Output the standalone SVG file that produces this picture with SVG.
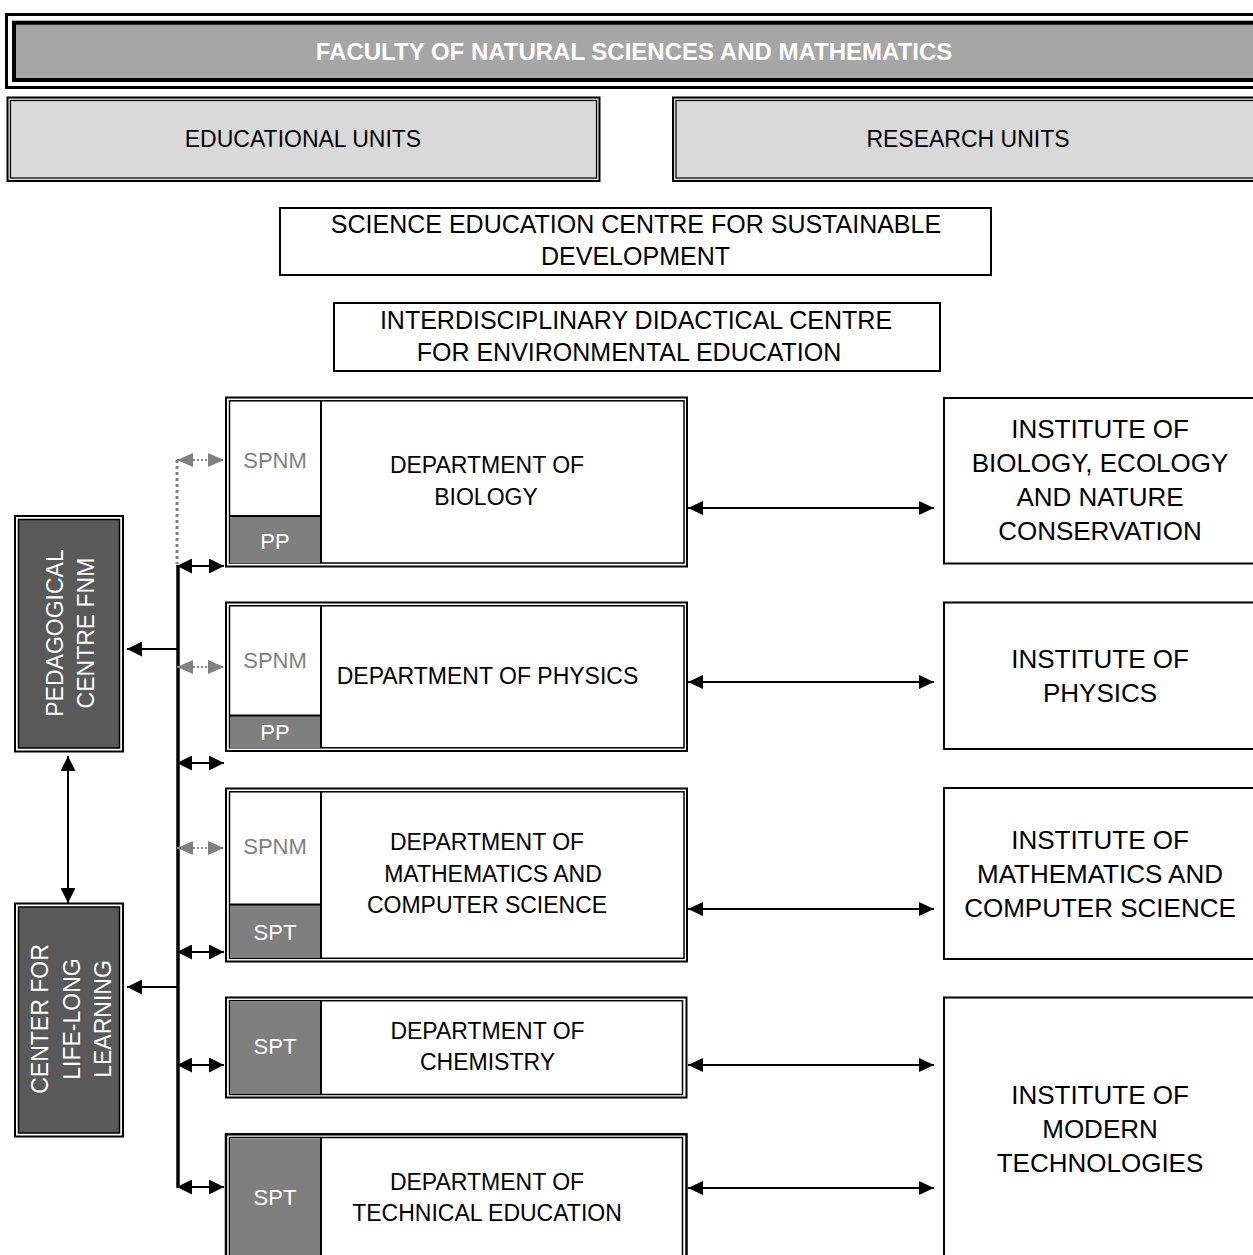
<svg xmlns="http://www.w3.org/2000/svg" width="1253" height="1255" viewBox="0 0 1253 1255">
<style>
text{font-family:"Liberation Sans",Arial,sans-serif;text-anchor:middle;fill:#000}
.t23{font-size:23px}
.t25{font-size:25px}
.t26{font-size:26px}
.sm{font-size:22px}
.gr{fill:#808080}
.wh{fill:#fff}
.o{fill:none;stroke:#000;stroke-width:2}
.i{fill:none;stroke:#000;stroke-width:1.5}
.band{fill:#7f7f7f}
.ln{stroke:#000;stroke-width:2;fill:none}
.conn{stroke:#000;stroke-width:2;fill:none;marker-start:url(#ah);marker-end:url(#ah)}
.bus{stroke:#000;stroke-width:2;fill:none;marker-start:url(#sh);marker-end:url(#sh)}
.gconn{stroke:#808080;stroke-width:2;stroke-dasharray:2 2;fill:none;marker-start:url(#gh);marker-end:url(#gh)}
</style>
<defs>
<marker id="ah" markerUnits="userSpaceOnUse" markerWidth="15" markerHeight="14" refX="15" refY="7" orient="auto-start-reverse"><path d="M0,0 L15,7 L0,14 z" fill="#000"/></marker>
<marker id="sh" markerUnits="userSpaceOnUse" markerWidth="15" markerHeight="15" refX="15" refY="7.5" orient="auto-start-reverse"><path d="M0,0 L15,7.5 L0,15 z" fill="#000"/></marker>
<marker id="gh" markerUnits="userSpaceOnUse" markerWidth="16" markerHeight="14" refX="16" refY="7" orient="auto-start-reverse"><path d="M0,0 L16,7 L0,14 z" fill="#808080"/></marker>
<marker id="eh" markerUnits="userSpaceOnUse" markerWidth="15" markerHeight="15" refX="15" refY="7.5" orient="auto"><path d="M0,0 L15,7.5 L0,15 z" fill="#000"/></marker>
</defs>
<rect width="1253" height="1255" fill="#fff"/>

<g id="faculty">
<rect x="6.5" y="14.5" width="1260" height="73" fill="#fff" stroke="#000" stroke-width="3"/>
<rect x="14" y="22.7" width="1260" height="57.3" fill="#a6a6a6" stroke="#000" stroke-width="4"/>
<text x="634" y="59.5" class="wh" style="font-size:24px;font-weight:bold">FACULTY OF NATURAL SCIENCES AND MATHEMATICS</text>
</g>

<g id="educational-units">
<rect x="7.5" y="97.5" width="592" height="83.5" fill="#d9d9d9" stroke="#000" stroke-width="2"/>
<rect x="10.5" y="100.5" width="586" height="77.5" fill="none" stroke="#000" stroke-width="1.2"/>
<text x="303" y="146.5" class="t23">EDUCATIONAL UNITS</text>
</g>

<g id="research-units">
<rect x="673" y="97.5" width="600" height="83.5" fill="#d9d9d9" stroke="#000" stroke-width="2"/>
<rect x="676" y="100.5" width="600" height="77.5" fill="none" stroke="#000" stroke-width="1.2"/>
<text x="968" y="146.5" class="t23">RESEARCH UNITS</text>
</g>

<g id="science-education-centre">
<rect x="280" y="208" width="711" height="67" fill="#fff" stroke="#000" stroke-width="2"/>
<text x="636" y="233" class="t25">SCIENCE EDUCATION CENTRE FOR SUSTAINABLE</text>
<text x="635.5" y="265" class="t25">DEVELOPMENT</text>
</g>

<g id="interdisciplinary-centre">
<rect x="334" y="303" width="606" height="68" fill="#fff" stroke="#000" stroke-width="2"/>
<text x="636" y="329" class="t25">INTERDISCIPLINARY DIDACTICAL CENTRE</text>
<text x="629" y="361" class="t25">FOR ENVIRONMENTAL EDUCATION</text>
</g>

<g id="pedagogical-centre">
<rect x="15" y="516" width="108" height="235.5" fill="#fff" stroke="#000" stroke-width="2"/>
<rect x="18.5" y="519.5" width="101" height="228.5" fill="#595959" stroke="#000" stroke-width="1.5"/>
<g transform="translate(69,633) rotate(-90)">
<text x="0" y="-6" class="t23 wh">PEDAGOGICAL</text>
<text x="0" y="25" class="t23 wh">CENTRE FNM</text>
</g>
</g>

<g id="life-long-learning">
<rect x="15" y="903.5" width="108" height="233" fill="#fff" stroke="#000" stroke-width="2"/>
<rect x="18.5" y="907" width="101" height="226" fill="#595959" stroke="#000" stroke-width="1.5"/>
<g transform="translate(69,1019) rotate(-90)">
<text x="0" y="-21" class="t23 wh">CENTER FOR</text>
<text x="0" y="11" class="t23 wh">LIFE-LONG</text>
<text x="0" y="42" class="t23 wh">LEARNING</text>
</g>
</g>

<g id="dept-biology">
<rect x="226" y="397.5" width="461" height="169" fill="#fff" class="o"/>
<rect x="229.5" y="400.8" width="454.5" height="162.2" class="i"/>
<rect x="230" y="516" width="91" height="47" class="band"/>
<line x1="230" y1="516" x2="321" y2="516" class="ln"/>
<line x1="321" y1="401" x2="321" y2="563" class="ln"/>
<text x="275" y="468" class="sm gr">SPNM</text>
<text x="275" y="548.5" class="sm wh">PP</text>
<text x="487" y="473" class="t23">DEPARTMENT OF</text>
<text x="486" y="505" class="t23">BIOLOGY</text>
</g>

<g id="dept-physics">
<rect x="226" y="602.5" width="461" height="148.5" fill="#fff" class="o"/>
<rect x="229.5" y="605.8" width="454.5" height="142" class="i"/>
<rect x="230" y="715.5" width="91" height="32.5" class="band"/>
<line x1="230" y1="715.5" x2="321" y2="715.5" class="ln"/>
<line x1="321" y1="606" x2="321" y2="748" class="ln"/>
<text x="275" y="668" class="sm gr">SPNM</text>
<text x="275" y="740" class="sm wh">PP</text>
<text x="487.5" y="684" class="t23">DEPARTMENT OF PHYSICS</text>
</g>

<g id="dept-mathematics">
<rect x="226" y="788.5" width="461" height="173" fill="#fff" class="o"/>
<rect x="229.5" y="791.8" width="454.5" height="166.5" class="i"/>
<rect x="230" y="904.5" width="91" height="53.5" class="band"/>
<line x1="230" y1="904.5" x2="321" y2="904.5" class="ln"/>
<line x1="321" y1="792" x2="321" y2="958" class="ln"/>
<text x="275" y="854" class="sm gr">SPNM</text>
<text x="275" y="940" class="sm wh">SPT</text>
<text x="487" y="850" class="t23">DEPARTMENT OF</text>
<text x="493" y="882" class="t23">MATHEMATICS AND</text>
<text x="487" y="913" class="t23">COMPUTER SCIENCE</text>
</g>

<g id="dept-chemistry">
<rect x="226" y="997.5" width="460.5" height="100" fill="#fff" class="o"/>
<rect x="229.5" y="1000.7" width="453" height="93.8" class="i"/>
<rect x="230" y="1001.5" width="91" height="92.5" class="band"/>
<line x1="321" y1="1001" x2="321" y2="1094" class="ln"/>
<text x="275" y="1054" class="sm wh">SPT</text>
<text x="487.5" y="1039" class="t23">DEPARTMENT OF</text>
<text x="487.5" y="1070" class="t23">CHEMISTRY</text>
</g>

<g id="dept-technical-education">
<rect x="226" y="1134.3" width="460.5" height="140" fill="#fff" stroke="#000" stroke-width="2.5"/>
<rect x="229.5" y="1137.5" width="453" height="140" class="i"/>
<rect x="230" y="1138.5" width="91" height="130" class="band"/>
<line x1="321" y1="1138" x2="321" y2="1260" class="ln"/>
<text x="275" y="1205" class="sm wh">SPT</text>
<text x="487" y="1190" class="t23">DEPARTMENT OF</text>
<text x="487" y="1221" class="t23">TECHNICAL EDUCATION</text>
</g>

<g id="inst-biology">
<rect x="944" y="398" width="320" height="165.5" fill="#fff" class="o"/>
<text x="1100" y="438" class="t26">INSTITUTE OF</text>
<text x="1100" y="472" class="t26">BIOLOGY, ECOLOGY</text>
<text x="1100" y="506" class="t26">AND NATURE</text>
<text x="1100" y="540" class="t26">CONSERVATION</text>
</g>

<g id="inst-physics">
<rect x="944" y="602.5" width="320" height="146.5" fill="#fff" class="o"/>
<text x="1100" y="668" class="t26">INSTITUTE OF</text>
<text x="1100" y="702" class="t26">PHYSICS</text>
</g>

<g id="inst-mathematics">
<rect x="944" y="788" width="320" height="171" fill="#fff" class="o"/>
<text x="1100" y="849" class="t26">INSTITUTE OF</text>
<text x="1100" y="883" class="t26">MATHEMATICS AND</text>
<text x="1100" y="917" class="t26">COMPUTER SCIENCE</text>
</g>

<g id="inst-modern-technologies">
<rect x="944" y="997.5" width="320" height="280" fill="#fff" class="o"/>
<text x="1100" y="1104" class="t26">INSTITUTE OF</text>
<text x="1100" y="1138" class="t26">MODERN</text>
<text x="1100" y="1172" class="t26">TECHNOLOGIES</text>
</g>

<g id="connectors">
<line x1="688" y1="508" x2="934" y2="508" class="conn"/>
<line x1="688" y1="682" x2="934" y2="682" class="conn"/>
<line x1="688" y1="909" x2="934" y2="909" class="conn"/>
<line x1="688" y1="1065" x2="934" y2="1065" class="conn"/>
<line x1="688" y1="1188" x2="934" y2="1188" class="conn"/>

<path d="M178,565 L178,1188" stroke="#000" stroke-width="3.5" fill="none"/>
<line x1="177" y1="566" x2="224" y2="566" class="bus"/>
<line x1="177" y1="763" x2="224" y2="763" class="bus"/>
<line x1="177" y1="952" x2="224" y2="952" class="bus"/>
<line x1="177" y1="1065" x2="224" y2="1065" class="bus"/>
<line x1="177" y1="1187" x2="224" y2="1187" class="bus"/>

<line x1="178" y1="649" x2="127" y2="649" class="ln" marker-end="url(#eh)"/>
<line x1="178" y1="987" x2="127" y2="987" class="ln" marker-end="url(#eh)"/>
<line x1="68" y1="756" x2="68" y2="903" class="bus"/>

<path d="M177,460 L177,564" stroke="#808080" stroke-width="3" stroke-dasharray="3 3" fill="none"/>
<line x1="177" y1="460" x2="224" y2="460" class="gconn"/>
<line x1="177" y1="667" x2="224" y2="667" class="gconn"/>
<line x1="177" y1="848" x2="224" y2="848" class="gconn"/>
</g>
</svg>
